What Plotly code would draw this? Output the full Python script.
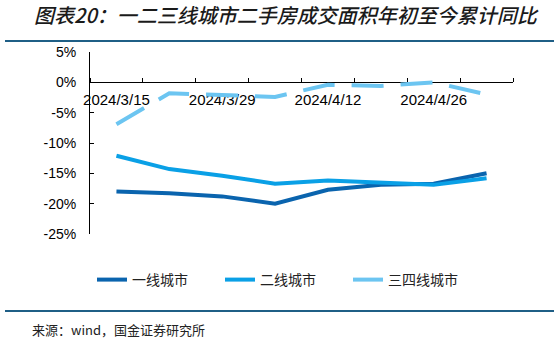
import plotly.graph_objects as go

# ---- data ----
dates = ["2024/3/15", "2024/3/22", "2024/3/29", "2024/4/5",
         "2024/4/12", "2024/4/19", "2024/4/26", "2024/5/3"]
tier1 = [-18.0, -18.3, -18.8, -20.0, -17.7, -16.9, -16.7, -15.0]
tier2 = [-12.1, -14.3, -15.4, -16.7, -16.2, -16.5, -16.9, -15.8]
tier34 = [-6.9, -1.8, -2.1, -2.4, -0.4, -0.6, 0.0, -2.0]
names = ["一线城市", "二线城市", "三四线城市"]
ytick_vals = [5, 0, -5, -10, -15, -20, -25]
ytick_text = ["5%", "0%", "-5%", "-10%", "-15%", "-20%", "-25%"]
label_idx = [0, 2, 4, 6]

title_text = "图表20：一二三线城市二手房成交面积年初至今累计同比"
source_text = "来源：wind，国金证券研究所"

# ---- layout constants ----
W, H = 559, 342
ML, MR, MT, MB = 90, 46, 52, 108
PW, PH = W - ML - MR, H - MT - MB
YMIN, YMAX = -25, 5


def px_x(x):
    return (x - ML) / PW


def px_y(y):
    return (H - MB - y) / PH


x = list(range(len(dates)))
colors = ["#0A64AE", "#0AA0E6", "#6CC5F1"]

fig = go.Figure()
for vals, name, col, dash in zip([tier1, tier2, tier34], names, colors,
                                 ["solid", "solid", "32px,17px"]):
    fig.add_trace(go.Scatter(
        x=x, y=vals, name=name, mode="lines",
        line=dict(color=col, width=4, dash=dash),
        hoverinfo="skip",
    ))

fig.update_layout(
    width=W, height=H,
    margin=dict(l=ML, r=MR, t=MT, b=MB, pad=0),
    paper_bgcolor="white", plot_bgcolor="white",
    font=dict(family="Liberation Sans, Arial, sans-serif", color="#000000"),
    title=dict(
        text=title_text, xref="container", yref="container",
        x=34 / W, y=1 - 16 / H, xanchor="left", yanchor="middle",
        font=dict(family="Noto Sans CJK SC", size=20, color="#1a1a1a",
                  style="italic", weight=500),
    ),
    showlegend=True,
    legend=dict(
        orientation="h", x=px_x(92), y=px_y(280), xanchor="left",
        yanchor="middle",
        font=dict(family="Noto Sans CJK SC", size=14, color="#222222"),
        entrywidth=83, entrywidthmode="pixels",
        bgcolor="rgba(0,0,0,0)",
    ),
    xaxis=dict(
        range=[-0.5, len(dates) - 0.5],
        anchor="free", position=(0 - YMIN) / (YMAX - YMIN),
        showline=True, linecolor="black", linewidth=1,
        showgrid=False, zeroline=False,
        tickvals=label_idx, ticktext=[dates[i] for i in label_idx],
        ticks="", tickfont=dict(size=15, color="#000000"),
        ticklabelstandoff=4,
        minor=dict(tick0=-0.5, dtick=1, ticks="inside", ticklen=4,
                   tickcolor="black", tickwidth=1, showgrid=False),
        layer="below traces",
        fixedrange=True,
    ),
    yaxis=dict(
        range=[YMIN, YMAX],
        showline=True, linecolor="black", linewidth=1,
        showgrid=False, zeroline=False,
        tickvals=ytick_vals, ticktext=ytick_text,
        ticks="inside", ticklen=4, tickcolor="black",
        tickfont=dict(size=14, color="#000000"),
        ticklabelstandoff=10,
        layer="below traces",
        fixedrange=True,
    ),
    shapes=[
        dict(type="line", xref="paper", yref="paper",
             x0=px_x(5), x1=px_x(554), y0=px_y(41), y1=px_y(41),
             line=dict(color="#1F5F86", width=2)),
        dict(type="line", xref="paper", yref="paper",
             x0=px_x(5), x1=px_x(554), y0=px_y(311), y1=px_y(311),
             line=dict(color="#1F5F86", width=2)),
    ],
    annotations=[
        dict(text=source_text, xref="paper", yref="paper",
             x=px_x(30), y=px_y(329), xanchor="left", yanchor="middle",
             showarrow=False,
             font=dict(family="Noto Sans CJK SC", size=13, color="#222222")),
    ],
)

fig.write_html("out.html")
